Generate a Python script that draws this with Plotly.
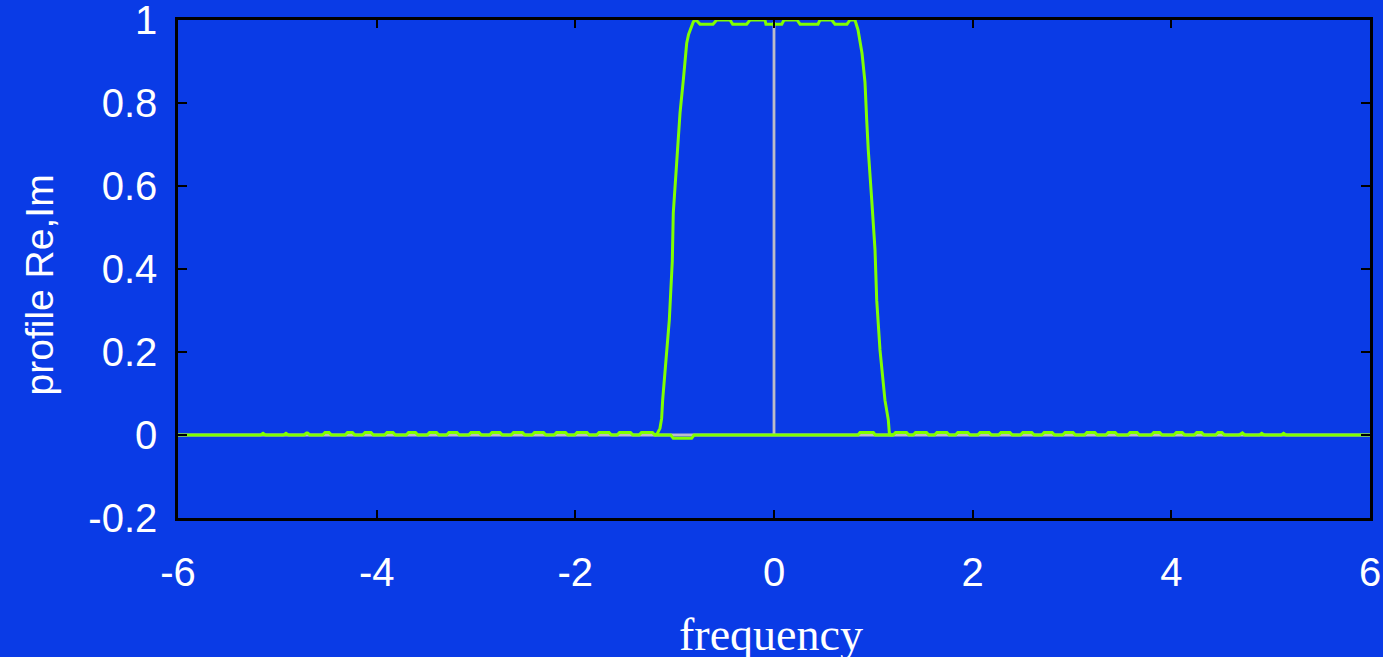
import plotly.graph_objects as go

# ---- data -------------------------------------------------------------
# Real part: main band edges and flat top (frequency, value)
re_core_x = [-1.198, -1.178, -1.148, -1.131, -1.121, -1.097, -1.054, -1.024, -1.014,
             -0.980, -0.946, -0.913, -0.896, -0.879, -0.860, -0.812, -0.785,
             -0.745, -0.614, -0.577, -0.443, -0.416, -0.275, -0.242, -0.091,
             -0.081, 0.078, 0.101, 0.232, 0.262, 0.443, 0.463, 0.581, 0.614,
             0.735, 0.765, 0.815, 0.846, 0.886, 0.916, 0.933, 0.949, 0.984,
             1.017, 1.034, 1.067, 1.117, 1.151, 1.161, 1.175]
re_core_y = [0.0, 0.002, 0.016, 0.040, 0.084, 0.157, 0.277, 0.418, 0.535,
             0.655, 0.776, 0.855, 0.904, 0.944, 0.965, 0.996, 1.0,
             0.990, 0.990, 1.0, 1.0, 0.990, 0.990, 1.0, 1.0,
             0.990, 0.990, 1.0, 1.0, 0.990, 0.990, 1.0, 1.0, 0.990,
             0.990, 1.0, 1.0, 0.976, 0.920, 0.850, 0.760, 0.687, 0.566,
             0.446, 0.325, 0.205, 0.084, 0.036, 0.005, 0.0]

# Real part: small ripples on the zero baseline (centre, half width of flat top, height)
ripple_left_c = [-5.144, -4.913, -4.701, -4.500, -4.269, -4.087, -3.866, -3.644, -3.433,
                 -3.232, -3.010, -2.799, -2.577, -2.366, -2.144, -1.933, -1.711, -1.500,
                 -1.279]
ripple_left_hw = [0.0, 0.0, 0.005, 0.02, 0.025, 0.03, 0.03, 0.035, 0.035,
                  0.04, 0.04, 0.04, 0.045, 0.045, 0.045, 0.05, 0.05, 0.055, 0.055]
ripple_left_h = [0.004, 0.004, 0.005, 0.006, 0.006, 0.006, 0.006, 0.006, 0.006,
                 0.006, 0.006, 0.006, 0.006, 0.006, 0.006, 0.006, 0.006, 0.006, 0.006]

ripple_right_c = [1.279, 1.480, 1.690, 1.900, 2.120, 2.330, 2.550, 2.760, 2.970,
                  3.190, 3.400, 3.620, 3.853, 4.080, 4.280, 4.490, 4.710, 4.910, 5.130]
ripple_right_hw = [0.055, 0.055, 0.05, 0.05, 0.045, 0.045, 0.045, 0.04, 0.04,
                   0.04, 0.035, 0.035, 0.03, 0.03, 0.025, 0.02, 0.005, 0.0, 0.0]
ripple_right_h = [0.006, 0.006, 0.006, 0.006, 0.006, 0.006, 0.006, 0.006, 0.006,
                  0.006, 0.006, 0.006, 0.006, 0.006, 0.006, 0.006, 0.005, 0.004, 0.004]

# Imaginary part near the band edges
im_x = [-1.20, -1.040, -1.014, -0.829, -0.805, 0.845, 0.866, 1.000, 1.020, 1.20]
im_y = [0.0, 0.0, -0.008, -0.008, 0.0, 0.0, 0.006, 0.006, 0.0, 0.0]

# Reference profile: zero line with the central line at f = 0
ref_x = [-6.0, 0.0, 0.0, 0.0, 6.0]
ref_y = [0.0, 0.0, 0.995, 0.0, 0.0]

x_range = [-6, 6]
y_range = [-0.2, 1.0]
x_ticks = [-6, -4, -2, 0, 2, 4, 6]
x_tick_text = ["-6", "-4", "-2", "0", "2", "4", "6"]
y_ticks = [-0.2, 0, 0.2, 0.4, 0.6, 0.8, 1.0]
y_tick_text = ["-0.2", "0", "0.2", "0.4", "0.6", "0.8", "1"]

# ---- assemble the real-part polyline ----------------------------------
RAMP = 0.025


def ripple_points(centres, half_widths, heights):
    xs, ys = [], []
    for c, hw, h in zip(centres, half_widths, heights):
        xs += [c - hw - RAMP, c - hw, c + hw, c + hw + RAMP]
        ys += [0.0, h, h, 0.0]
    return xs, ys


lx, ly = ripple_points(ripple_left_c, ripple_left_hw, ripple_left_h)
rx, ry = ripple_points(ripple_right_c, ripple_right_hw, ripple_right_h)
re_x = [x_range[0]] + lx + re_core_x + rx + [x_range[1]]
re_y = [0.0] + ly + re_core_y + ry + [0.0]

BG = "#0a3be6"
GREEN = "#80ff00"
GRAY = "#bcbcc8"

fig = go.Figure()
fig.add_trace(go.Scatter(x=ref_x, y=ref_y, mode="lines",
                         line=dict(color=GRAY, width=2.8), showlegend=False))
fig.add_trace(go.Scatter(x=im_x, y=im_y, mode="lines",
                         line=dict(color=GREEN, width=3), showlegend=False))
fig.add_trace(go.Scatter(x=re_x, y=re_y, mode="lines",
                         line=dict(color=GREEN, width=3), showlegend=False))

tick_font = dict(family="Liberation Sans, Arial, sans-serif", size=40, color="white")
axis_common = dict(showgrid=False, zeroline=False, showline=True, linecolor="black",
                   linewidth=2.5, mirror="ticks", ticks="inside", tickcolor="black",
                   tickwidth=2.2, tickfont=tick_font, automargin=False,
                   ticklabeloverflow="allow")

fig.update_xaxes(range=x_range, tickvals=x_ticks, ticktext=x_tick_text, ticklen=8,
                 ticklabelstandoff=17, **axis_common)
fig.update_yaxes(range=y_range, tickvals=y_ticks, ticktext=y_tick_text, ticklen=9,
                 ticklabelstandoff=10, **axis_common)

fig.add_annotation(text="frequency", xref="paper", yref="paper", x=0.4975, y=-0.234,
                   xanchor="center", yanchor="middle", showarrow=False,
                   font=dict(family="Liberation Serif, Times New Roman, serif",
                             size=46, color="white"))
fig.add_annotation(text="profile Re,Im", xref="paper", yref="paper", x=-0.1166, y=0.467,
                   xanchor="center", yanchor="middle", textangle=-90, showarrow=False,
                   font=dict(family="Liberation Sans, Arial, sans-serif",
                             size=39, color="white"))

fig.update_layout(width=1383, height=657, paper_bgcolor=BG, plot_bgcolor=BG,
                  margin=dict(l=178, r=13, t=20, b=139), showlegend=False)

fig.write_html("out.html")
